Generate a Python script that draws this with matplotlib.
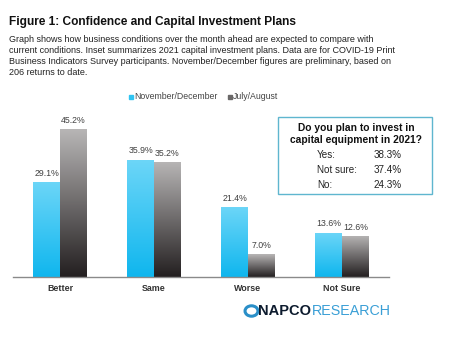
import matplotlib.pyplot as plt
import numpy as np
from matplotlib.patches import Rectangle, Circle
from matplotlib.colors import LinearSegmentedColormap

plt.rcParams['font.family'] = ['Liberation Sans', 'DejaVu Sans']

categories = ["Better", "Same", "Worse", "Not Sure"]
nov_dec = [29.1, 35.9, 21.4, 13.6]
jul_aug = [45.2, 35.2, 7.0, 12.6]
series_names = ["November/December", "July/August"]

inset_title = "Do you plan to invest in\ncapital equipment in 2021?"
inset_labels = ["Yes:", "Not sure:", "No:"]
inset_values = ["38.3%", "37.4%", "24.3%"]

W, H = 451, 363
fig = plt.figure(figsize=(W / 100, H / 100), dpi=100)

def fx(px):
    return px / W

def fy(py):
    return 1 - py / H

ax = fig.add_axes([fx(13), fy(277), fx(389) - fx(13), fy(100) - fy(277)])

cyan_map = LinearSegmentedColormap.from_list("cy", ["#0fb6ee", "#6dd6f8"])
gray_map = LinearSegmentedColormap.from_list("gr", ["#231f20", "#b8b6b6"])

x = np.arange(len(categories))
w = 0.287
grad = np.linspace(0, 1, 256).reshape(-1, 1)
for vals, off, cmap in [(nov_dec, -w / 2, cyan_map), (jul_aug, w / 2, gray_map)]:
    bars = ax.bar(x + off, vals, w, color="none", edgecolor="none")
    for b, v in zip(bars, vals):
        x0 = b.get_x()
        im = ax.imshow(grad, cmap=cmap, origin="lower", aspect="auto",
                       extent=[x0, x0 + w, 0, v], interpolation="bilinear")
        im.set_clip_path(b)
        ax.annotate(f"{v:.1f}%", (x0 + w / 2, v), xytext=(0, 3),
                    textcoords="offset points", ha="center", va="bottom",
                    fontsize=6.3, color="#404040")

ax.set_xlim(-0.5, 3.5)
ax.set_ylim(0, 54.1)
ax.set_xticks(x)
ax.set_xticklabels(categories, fontsize=6.4, fontweight="bold", color="#333333")
ax.tick_params(axis="x", length=0, pad=5)
ax.set_yticks([])
for s in ["top", "right", "left"]:
    ax.spines[s].set_visible(False)
ax.spines["bottom"].set_color("#8a8a8a")
ax.spines["bottom"].set_linewidth(1.0)

# legend
fig.add_artist(Rectangle((fx(129), fy(98.5)), fx(4), 4 / H, color="#2fc4f2",
                         transform=fig.transFigure))
fig.text(fx(134), fy(96.5), series_names[0], fontsize=6.3, color="#444444",
         va="center")
fig.add_artist(Rectangle((fx(228), fy(98.5)), fx(4), 4 / H, color="#6a6868",
                         transform=fig.transFigure))
fig.text(fx(233), fy(96.5), series_names[1], fontsize=6.3, color="#444444",
         va="center")

# title and description
fig.text(fx(9), fy(22), "Figure 1: Confidence and Capital Investment Plans",
         fontsize=8.6, fontweight="bold", va="center", color="#111111")
desc = ("Graph shows how business conditions over the month ahead are expected to compare with\n"
        "current conditions. Inset summarizes 2021 capital investment plans. Data are for COVID-19 Print\n"
        "Business Indicators Survey participants. November/December figures are preliminary, based on\n"
        "206 returns to date.")
fig.text(fx(9), fy(35.5), desc, fontsize=6.45, va="top", color="#222222",
         linespacing=1.27)

# inset box
fig.add_artist(Rectangle((fx(278), fy(194)), fx(432) - fx(278), (194 - 117) / H,
                         fill=False, edgecolor="#5fb6cf", linewidth=1.0,
                         transform=fig.transFigure))
fig.text(fx(356), fy(134), inset_title, fontsize=7.4, fontweight="bold",
         ha="center", va="center", color="#111111", linespacing=1.2)
for i, (lab, val) in enumerate(zip(inset_labels, inset_values)):
    yy = fy(155.5 + i * 14.5)
    fig.text(fx(317), yy, lab, fontsize=7.1, va="center", color="#222222")
    fig.text(fx(374), yy, val, fontsize=7.1, va="center", color="#222222")

# logo
fig.add_artist(Circle((fx(251.5), fy(311)), 5.2 / H * 1.0, fill=False,
                      edgecolor="#2a8fc8", linewidth=2.2,
                      transform=fig.transFigure))
fig.text(fx(258), fy(311), "NAPCO", fontsize=10.5, fontweight="bold",
         va="center", color="#0d1b2e")
fig.text(fx(312), fy(311), "RESEARCH", fontsize=10.3, va="center",
         color="#3a9fd6")

fig.savefig("out.png", dpi=100)
